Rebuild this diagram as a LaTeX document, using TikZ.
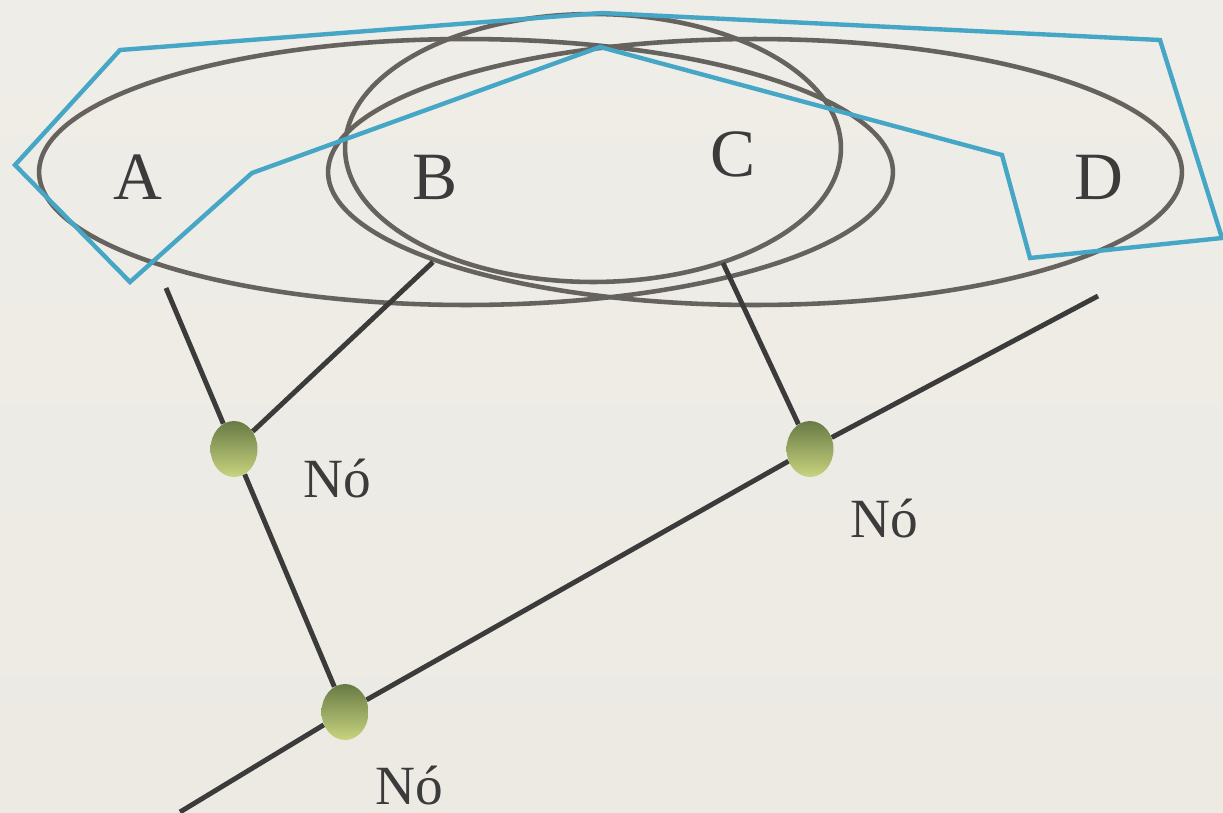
\documentclass[tikz,border=0pt]{standalone}
\usepackage{fontspec}
\setmainfont{Liberation Serif}
\usetikzlibrary{shapes.geometric}
\definecolor{ringgrey}{HTML}{66625E}
\definecolor{hullblue}{HTML}{46A6C5}
\definecolor{wiredark}{HTML}{3B3B3B}
\definecolor{knottop}{HTML}{687A45}
\definecolor{knotbot}{HTML}{C8D47E}
\definecolor{bgtop}{HTML}{EFEDE7}
\definecolor{bgmid}{HTML}{E1DFDB}
\definecolor{bgbot}{HTML}{ECEAE3}
\begin{document}
\begin{tikzpicture}[x=0.02cm, y=-0.02cm]
\tikzstyle{ring}=[draw=ringgrey, line width=2.6pt]
\tikzstyle{hull}=[draw=hullblue, line width=2.5pt, line join=miter]
\tikzstyle{wire}=[draw=wiredark, line width=2.8pt]
\tikzstyle{knot}=[ellipse, minimum width=0.94cm, minimum height=1.12cm, inner sep=0pt, top color=knottop, bottom color=knotbot]
\tikzstyle{setname}=[font=\fontsize{38.5}{41}\selectfont, text=wiredark, anchor=base]
\tikzstyle{knotname}=[font=\fontsize{31.5}{34}\selectfont, text=wiredark, anchor=base, inner sep=0pt, text depth=0pt]
\useasboundingbox (0,0) rectangle (1223,812);
\fill[top color=bgtop, middle color=bgmid, bottom color=bgbot] (0,0) rectangle (1223,812);
% the three sets
\draw[ring] (466,172) ellipse [x radius=8.54cm, y radius=2.66cm];
\draw[ring] (755,172) ellipse [x radius=8.54cm, y radius=2.66cm];
\draw[ring] (593,148) ellipse [x radius=4.96cm, y radius=2.68cm];
\draw[hull] (15,165) -- (120,50) -- (602,13) -- (1160,40) -- (1222,238) -- (1030,258) -- (1002,155) -- (600,47) -- (252,173) -- (130,282) -- cycle;
\node[setname] (la) at (138,199) {A};
\node[setname] (lb) at (435,199) {B};
\node[setname] (lc) at (733,176) {C};
\node[setname] (ld) at (1099,199) {D};
% nodes and wires
\node[knot] (k1) at (234,449) {};
\node[knot] (k2) at (810,449) {};
\node[knot] (k3) at (345,712) {};
\coordinate (wa) at (166,288); \coordinate (wb) at (433,262); \coordinate (wc) at (723,263);
\coordinate (wd) at (1098,296); \coordinate (we) at (180,812);
\draw[wire] (wa) -- (k1); \draw[wire] (k1) -- (k3); \draw[wire] (k1) -- (wb);
\draw[wire] (wc) -- (k2); \draw[wire] (wd) -- (k2); \draw[wire] (k2) -- (k3); \draw[wire] (k3) -- (we);
\node[knotname] (n1) at (337,497) {Nó};
\node[knotname] (n2) at (884,537) {Nó};
\node[knotname] (n3) at (409,804) {Nó};
\end{tikzpicture}
\end{document}
